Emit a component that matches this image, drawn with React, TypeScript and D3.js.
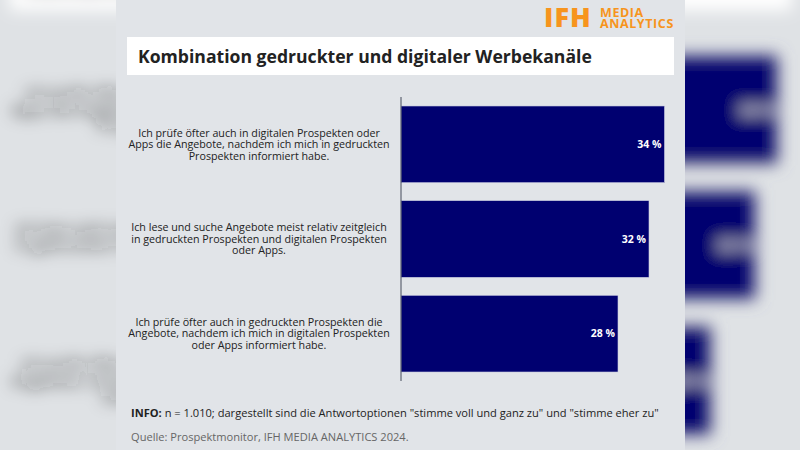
import React from "react";
import * as d3 from "d3";

const title = "Kombination gedruckter und digitaler Werbekanäle";
const categories = [
  "Ich prüfe öfter auch in digitalen Prospekten oder|Apps die Angebote, nachdem ich mich in gedruckten|Prospekten informiert habe.",
  "Ich lese und suche Angebote meist relativ zeitgleich|in gedruckten Prospekten und digitalen Prospekten|oder Apps.",
  "Ich prüfe öfter auch in gedruckten Prospekten die|Angebote, nachdem ich mich in digitalen Prospekten|oder Apps informiert habe.",
];
const values = [34, 32, 28];
const infoLabel = "INFO:";
const infoText = " n = 1.010; dargestellt sind die Antwortoptionen \"stimme voll und ganz zu\" und \"stimme eher zu\"";
const sourceText = "Quelle: Prospektmonitor, IFH MEDIA ANALYTICS 2024.";

const W = 800;
const H = 450;
const BG = "#e1e4e8";
const BAR = "#000070";
const ORANGE = "#f7941d";
const FONT = "'Open Sans', 'Noto Sans', sans-serif";

const x = d3.scaleLinear().domain([0, 36]).range([401, 680]);
const y = d3
  .scaleBand<string>()
  .domain(categories)
  .range([97, 381])
  .paddingInner(0.19)
  .paddingOuter(0.095);

const LABEL_FS = 10.7;
const LINE_H = 11.5;

function Content() {
  return (
    <g>
      <text x={544} y={27} fill={ORANGE} fontFamily={FONT} fontWeight={800} fontSize={27} letterSpacing={1}>
        IFH
      </text>
      <text x={600} y={17} fill={ORANGE} fontFamily={FONT} fontWeight={700} fontSize={12.5} letterSpacing={0.6}>
        MEDIA
      </text>
      <text x={600} y={27.5} fill={ORANGE} fontFamily={FONT} fontWeight={700} fontSize={12.5} letterSpacing={0.6}>
        ANALYTICS
      </text>
      <rect x={127} y={37} width={547} height={38} fill="#ffffff" />
      <text x={138} y={62.5} fill="#222222" fontFamily={FONT} fontWeight={700} fontSize={17.6}>
        {title}
      </text>
      {categories.map((c, i) => {
        const yc = y(c)! + y.bandwidth() / 2;
        const lines = c.split("|");
        return (
          <g key={c}>
            <rect
              x={x(0)}
              y={y(c)!}
              width={x(values[i]) - x(0)}
              height={y.bandwidth()}
              fill={BAR}
              stroke="#c9cbe0"
              strokeWidth={0.6}
            />
            <text
              x={x(values[i]) - 3}
              y={yc}
              dy="0.35em"
              textAnchor="end"
              fill="#ffffff"
              fontFamily={FONT}
              fontWeight={700}
              fontSize={10.5}
            >
              {`${values[i]} %`}
            </text>
            <text x={259} y={yc} textAnchor="middle" fill="#222222" fontFamily={FONT} fontSize={LABEL_FS}>
              {lines.map((line, j) => (
                <tspan
                  key={j}
                  x={259}
                  dy={j === 0 ? `${(-(lines.length - 1) / 2) * LINE_H + 3.7}` : `${LINE_H}`}
                >
                  {line}
                </tspan>
              ))}
            </text>
          </g>
        );
      })}
      <line x1={401} x2={401} y1={97} y2={381} stroke="#444a5a" strokeWidth={1} />
      <text x={131} y={417} fill="#222222" fontFamily={FONT} fontSize={11.1}>
        <tspan fontWeight={700}>{infoLabel}</tspan>
        <tspan>{infoText}</tspan>
      </text>
      <text x={131} y={441} fill="#666666" fontFamily={FONT} fontSize={11.1}>
        {sourceText}
      </text>
    </g>
  );
}

export default function App() {
  return (
    <svg
      width={W}
      height={H}
      viewBox={`0 0 ${W} ${H}`}
      style={{ position: "absolute", left: 0, top: 0, display: "block" }}
    >
      <defs>
        <filter id="blur" x="-30%" y="-30%" width="160%" height="160%">
          <feGaussianBlur stdDeviation={5.5} />
        </filter>
      </defs>
      <rect x={0} y={0} width={W} height={H} fill="#dfe2e5" />
      <g transform="translate(400,225) scale(1.43) translate(-400,-225)" filter="url(#blur)">
        <Content />
      </g>
      <rect x={116} y={0} width={569} height={H} fill={BG} />
      <Content />
    </svg>
  );
}
